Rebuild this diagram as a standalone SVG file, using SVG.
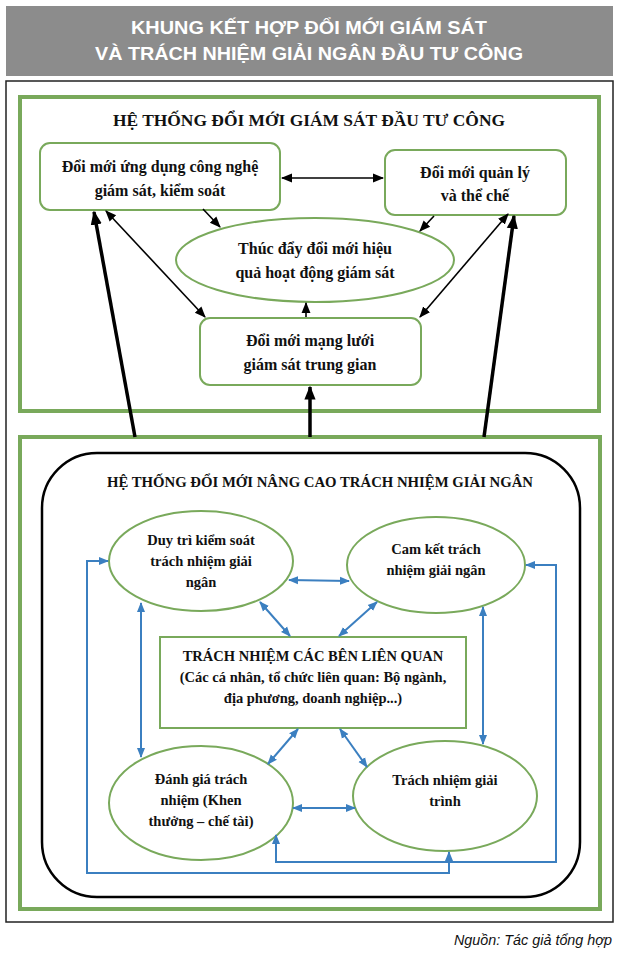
<svg xmlns="http://www.w3.org/2000/svg" width="619" height="958" viewBox="0 0 619 958">
<style>
.g{fill:none;stroke:#79a95b;stroke-width:4}
.n{fill:#fff;stroke:#79a95b;stroke-width:2}
.t{font-family:'Liberation Serif','Times New Roman',serif;font-weight:bold;font-size:16px;fill:#111;text-anchor:middle}
.s{font-family:'Liberation Serif','Times New Roman',serif;font-weight:bold;font-size:14.5px;fill:#111;text-anchor:middle}
.k{stroke:#000;stroke-width:1.6;fill:none}
.K{stroke:#000;stroke-width:3.5;fill:none}
.b{stroke:#3b7fc0;stroke-width:2;fill:none}
</style>
<defs>
<marker id="ak" viewBox="0 0 10 10" refX="9" refY="5" markerWidth="7" markerHeight="7" orient="auto-start-reverse"><path d="M0,1L10,5L0,9z" fill="#000"/></marker>
<marker id="aK" viewBox="0 0 10 10" refX="9" refY="5" markerWidth="4" markerHeight="4" orient="auto"><path d="M0,1L10,5L0,9z" fill="#000"/></marker>
<marker id="ab" viewBox="0 0 10 10" refX="9" refY="5" markerWidth="5" markerHeight="5" orient="auto-start-reverse"><path d="M0,1L10,5L0,9z" fill="#3b7fc0"/></marker>
</defs>
<rect width="619" height="958" fill="#fff"/>
<g id="banner"><rect x="6" y="6" width="607" height="70" fill="#8c8c8c"/>
<text x="309" y="34" font-family="'Liberation Sans',sans-serif" font-weight="bold" font-size="19" fill="#fff" text-anchor="middle" textLength="356" lengthAdjust="spacingAndGlyphs">KHUNG KẾT HỢP ĐỔI MỚI GIÁM SÁT</text>
<text x="309" y="60" font-family="'Liberation Sans',sans-serif" font-weight="bold" font-size="19" fill="#fff" text-anchor="middle" textLength="428" lengthAdjust="spacingAndGlyphs">VÀ TRÁCH NHIỆM GIẢI NGÂN ĐẦU TƯ CÔNG</text></g>
<rect x="6" y="81" width="607" height="841" fill="none" stroke="#222" stroke-width="1.5"/>
<g id="top-system"><rect class="g" x="20" y="97" width="579" height="314"/>
<text class="t" x="309" y="126" textLength="392" lengthAdjust="spacingAndGlyphs">HỆ THỐNG ĐỔI MỚI GIÁM SÁT ĐẦU TƯ CÔNG</text></g>
<g id="n1"><rect class="n" x="40" y="143" width="240" height="67" rx="10"/><text class="t" x="160" y="172">Đổi mới ứng dụng công nghệ</text><text class="t" x="160" y="196">giám sát, kiểm soát</text></g>
<g id="n2"><rect class="n" x="385" y="150" width="181" height="65" rx="10"/><text class="t" x="475" y="178">Đổi mới quản lý</text><text class="t" x="475" y="201">và thể chế</text></g>
<g id="n3"><ellipse class="n" cx="315" cy="260" rx="139" ry="42"/><text class="t" x="315" y="254">Thúc đẩy đổi mới hiệu</text><text class="t" x="315" y="278">quả hoạt động giám sát</text></g>
<g id="n4"><rect class="n" x="200" y="318" width="221" height="67" rx="10"/><text class="t" x="310" y="346">Đổi mới mạng lưới</text><text class="t" x="310" y="370">giám sát trung gian</text></g>
<g id="bottom-system"><rect class="g" x="20" y="437" width="580" height="472"/>
<rect x="42" y="453" width="538" height="444" rx="55" fill="none" stroke="#000" stroke-width="2.5"/>
<text class="s" x="320" y="487" textLength="426" lengthAdjust="spacingAndGlyphs">HỆ THỐNG ĐỔI MỚI NÂNG CAO TRÁCH NHIỆM GIẢI NGÂN</text></g>
<g id="e1"><ellipse class="n" cx="201" cy="561" rx="92" ry="50"/><text class="s" x="201" y="545">Duy trì kiểm soát</text><text class="s" x="201" y="566">trách nhiệm giải</text><text class="s" x="201" y="587">ngân</text></g>
<g id="e2"><ellipse class="n" cx="436" cy="565" rx="89" ry="48"/><text class="s" x="436" y="554">Cam kết trách</text><text class="s" x="436" y="575">nhiệm giải ngân</text></g>
<g id="c"><rect class="n" x="160" y="637" width="306" height="91"/><text class="s" x="313" y="661">TRÁCH NHIỆM CÁC BÊN LIÊN QUAN</text><text class="s" x="313" y="682">(Các cá nhân, tổ chức liên quan: Bộ ngành,</text><text class="s" x="313" y="703">địa phương, doanh nghiệp...)</text></g>
<g id="e3"><ellipse class="n" cx="201" cy="803" rx="92" ry="57"/><text class="s" x="201" y="784">Đánh giá trách</text><text class="s" x="201" y="805">nhiệm (Khen</text><text class="s" x="201" y="826">thưởng – chế tài)</text></g>
<g id="e4"><ellipse class="n" cx="445" cy="796" rx="92" ry="55"/><text class="s" x="445" y="785">Trách nhiệm giải</text><text class="s" x="445" y="806">trình</text></g>
<g id="connectors">
<line class="k" x1="282" y1="178" x2="383" y2="178" marker-start="url(#ak)" marker-end="url(#ak)"/>
<line class="k" x1="203" y1="209" x2="220" y2="227" marker-end="url(#ak)"/>
<line class="k" x1="434" y1="216" x2="420" y2="231" marker-end="url(#ak)"/>
<line class="k" x1="106" y1="211" x2="205" y2="317" marker-start="url(#ak)" marker-end="url(#ak)"/>
<line class="k" x1="508" y1="214" x2="420" y2="317" marker-start="url(#ak)" marker-end="url(#ak)"/>
<line class="k" x1="306" y1="317" x2="306" y2="303" marker-end="url(#ak)"/>
<line class="K" x1="135" y1="437" x2="94" y2="212" marker-end="url(#aK)"/>
<line class="K" x1="310" y1="437" x2="310" y2="387" marker-end="url(#aK)"/>
<line class="K" x1="484" y1="437" x2="514" y2="216" marker-end="url(#aK)"/>
<line class="b" x1="289" y1="580" x2="349" y2="581" marker-start="url(#ab)" marker-end="url(#ab)"/>
<line class="b" x1="260" y1="602" x2="290" y2="636" marker-start="url(#ab)" marker-end="url(#ab)"/>
<line class="b" x1="377" y1="602" x2="339" y2="636" marker-start="url(#ab)" marker-end="url(#ab)"/>
<line class="b" x1="141" y1="603" x2="141" y2="757" marker-start="url(#ab)" marker-end="url(#ab)"/>
<line class="b" x1="483" y1="607" x2="483" y2="744" marker-start="url(#ab)" marker-end="url(#ab)"/>
<line class="b" x1="298" y1="729" x2="268" y2="764" marker-start="url(#ab)" marker-end="url(#ab)"/>
<line class="b" x1="340" y1="729" x2="367" y2="767" marker-start="url(#ab)" marker-end="url(#ab)"/>
<line class="b" x1="293" y1="808" x2="355" y2="808" marker-start="url(#ab)" marker-end="url(#ab)"/>
<polyline class="b" points="449,852 449,873 87,873 87,561 108,561" marker-start="url(#ab)" marker-end="url(#ab)"/>
<polyline class="b" points="276,835 276,862 556,862 556,565 526,565" marker-start="url(#ab)" marker-end="url(#ab)"/>
</g>
<text x="612" y="945" font-family="'Liberation Sans',sans-serif" font-style="italic" font-size="15" fill="#111" text-anchor="end" textLength="158" lengthAdjust="spacingAndGlyphs">Nguồn: Tác giả tổng hợp</text>
</svg>
